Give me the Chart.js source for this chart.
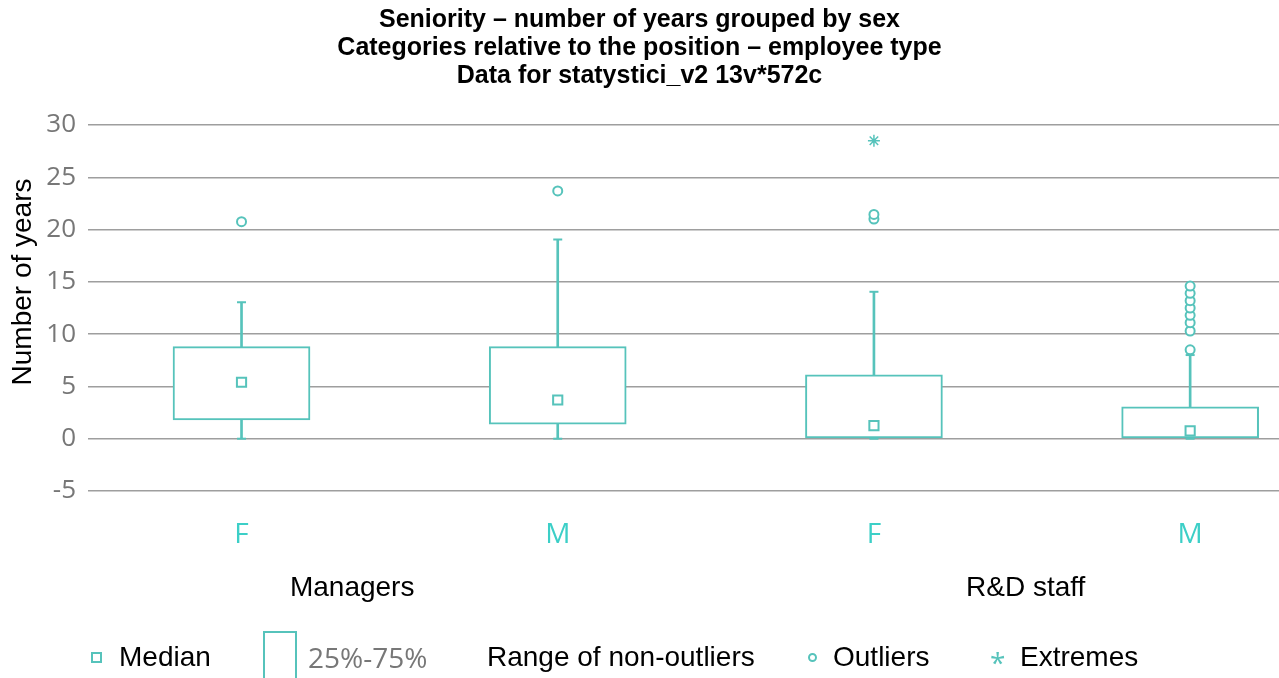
<!DOCTYPE html>
<html lang="en">
<head>
<meta charset="UTF-8">
<title>seniority</title>
<script src="https://cdn.jsdelivr.net/npm/chart.js"></script>
<style>
  body { margin: 0; background: #fff; }
  .wrap { position: relative; width: 1279px; height: 678px; overflow: hidden; }
  .leg { position: absolute; top: 640px; font: 28px "Liberation Sans", Arial, sans-serif; color: #000; line-height: 34px; white-space: nowrap; }
  .sym { position: absolute; box-sizing: border-box; border: 2px solid #56c3bb; background: #fff; }
</style>
</head>
<body>
<div class="wrap">
  <canvas id="grafico" width="1279" height="678"></canvas>

  <div class="sym" style="left:91px; top:652px; width:11px; height:11px;"></div>
  <span class="leg" style="left:119px;">Median</span>
  <div class="sym" style="left:263px; top:631px; width:34px; height:60px;"></div>
  <span class="leg" style="left:308px; color:#777; font-family:'Open Sans', sans-serif;">25%-75%</span>
  <span class="leg" style="left:487px;">Range of non-outliers</span>
  <div class="sym" style="left:808px; top:653px; width:9px; height:9px; border-radius:50%;"></div>
  <span class="leg" style="left:833px;">Outliers</span>
  <span class="leg" style="left:990px; top:645px; color:#56c3bb; font-family:'Open Sans', sans-serif;">*</span>
  <span class="leg" style="left:1020px;">Extremes</span>
</div>

<script>
// dados
const categorias = ['F', 'M', 'F', 'M'];
const grupos = ['Managers', 'R&D staff'];
const posGrupos = [0.35, 2.48];

const q1 = [1.8, 1.4, 0, 0];
const q3 = [8.8, 8.8, 6.1, 3.05];
const medianas = [5.4, 3.7, 1.25, 0.75];
const bigodeMin = [0, 0, 0, 0];
const bigodeMax = [13.05, 19.05, 14.05, 8.0];
const outliers = [[20.75], [23.7], [21.0, 21.45], [8.5, 10.3, 11.1, 11.8, 12.5, 13.2, 13.9, 14.6]];
const extremos = [[], [], [28.5], []];

const yTicks = [-5, 0, 5, 10, 15, 20, 25, 30];

var verde = '#56c3bb';

var pontosOutliers = [];
var pontosExtremos = [];
var pontosCaps = [];
for (i = 0; i < categorias.length; i++) {
  for (var j = 0; j < outliers[i].length; j++) pontosOutliers.push({ x: i, y: outliers[i][j] });
  for (var k = 0; k < extremos[i].length; k++) pontosExtremos.push({ x: i, y: extremos[i][k] });
  pontosCaps.push({ x: i, y: bigodeMin[i] });
  pontosCaps.push({ x: i, y: bigodeMax[i] });
}

// textos extras: titulo do eixo y e nomes dos grupos
const textosExtras = {
  id: 'textosExtras',
  afterDraw(chart) {
    var ctx = chart.ctx;
    var x = chart.scales.x;
    ctx.save();
    ctx.fillStyle = '#000';
    ctx.font = '28px "Liberation Sans", Arial, sans-serif';
    ctx.textAlign = 'center';
    ctx.textBaseline = 'middle';
    for (var g = 0; g < grupos.length; g++) {
      ctx.fillText(grupos[g], x.getPixelForValue(posGrupos[g]), 588);
    }
    ctx.translate(23, 282);
    ctx.rotate(-Math.PI / 2);
    ctx.fillText('Number of years', 0, 0);
    ctx.restore();
  }
};

var canvas = document.getElementById('grafico');

grafico = new Chart(canvas, {
  type: 'bar',
  data: {
    datasets: [
      {
        type: 'scatter',
        label: 'Median',
        data: medianas.map(function (v, i) { return { x: i, y: v }; }),
        pointStyle: 'rect',
        pointRadius: 6.5,
        pointBackgroundColor: '#fff',
        pointBorderColor: verde,
        pointBorderWidth: 2,
        order: 0
      },
      {
        type: 'scatter',
        label: 'Outliers',
        data: pontosOutliers,
        pointStyle: 'circle',
        pointRadius: 4.5,
        pointBackgroundColor: '#fff',
        pointBorderColor: verde,
        pointBorderWidth: 2,
        order: 0
      },
      {
        type: 'scatter',
        label: 'Extremes',
        data: pontosExtremos,
        pointStyle: 'star',
        pointRadius: 6,
        pointBorderColor: verde,
        pointBorderWidth: 1.5,
        order: 0
      },
      {
        type: 'scatter',
        label: 'caps',
        data: pontosCaps,
        pointStyle: 'line',
        pointRadius: 4.5,
        pointBorderColor: verde,
        pointBorderWidth: 2,
        order: 1
      },
      {
        label: '25%-75%',
        data: q1.map(function (v, i) { return { x: i, y: [v, q3[i]] }; }),
        backgroundColor: '#fff',
        borderColor: verde,
        borderWidth: 2,
        borderSkipped: false,
        barThickness: 137,
        grouped: false,
        order: 2
      },
      {
        label: 'Range of non-outliers',
        data: bigodeMin.map(function (v, i) { return { x: i, y: [v, bigodeMax[i]] }; }),
        backgroundColor: verde,
        borderWidth: 0,
        barThickness: 2,
        grouped: false,
        order: 3
      }
    ]
  },
  options: {
    responsive: false,
    animation: false,
    layout: { padding: 0, autoPadding: false },
    plugins: {
      legend: { display: false },
      tooltip: { enabled: false },
      title: {
        display: true,
        text: ['Seniority \u2013 number of years grouped by sex',
               'Categories relative to the position \u2013 employee type',
               'Data for statystici_v2 13v*572c'],
        color: '#000',
        font: { family: '"Liberation Sans", Arial, sans-serif', size: 25, weight: 'bold', lineHeight: 1.12 },
        padding: { top: 6, bottom: 35 }
      }
    },
    scales: {
      x: {
        type: 'linear',
        offset: false,
        min: -0.4855,
        max: 3.281,
        afterBuildTicks: function (scale) {
          scale.ticks = categorias.map(function (c, i) { return { value: i }; });
        },
        afterFit: function (scale) {
          scale.height = 187;
          scale.paddingLeft = 0;
          scale.paddingRight = 0;
        },
        grid: { display: false },
        border: { display: false },
        ticks: {
          color: '#3ccfc7',
          padding: 19,
          maxRotation: 0,
          font: { family: '"Open Sans", sans-serif', size: 28 },
          callback: function (v) { return categorias[v]; }
        }
      },
      y: {
        min: -5,
        max: 30,
        afterBuildTicks: function (scale) {
          scale.ticks = yTicks.map(function (v) { return { value: v }; });
        },
        afterFit: function (scale) { scale.width = 88; },
        grid: { color: '#9e9e9e', lineWidth: 1.5, drawTicks: false },
        border: { display: false },
        ticks: {
          color: '#777',
          padding: 12,
          font: { family: '"Open Sans", sans-serif', size: 26 }
        }
      }
    }
  },
  plugins: [textosExtras]
});
</script>
</body>
</html>
